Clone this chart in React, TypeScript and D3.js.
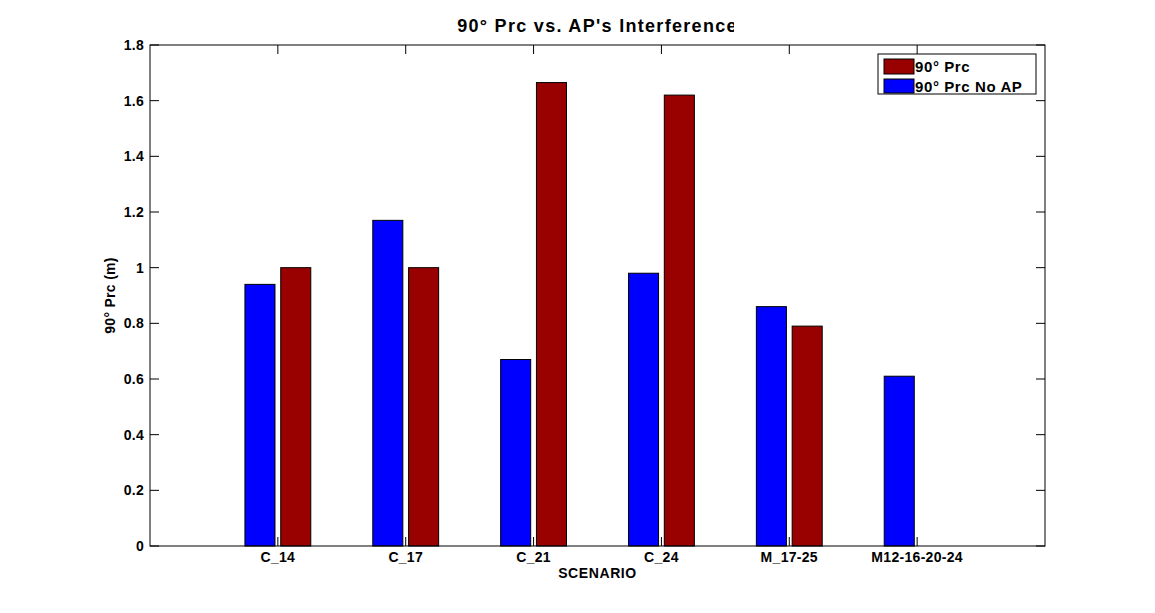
import React from "react";
import * as d3 from "d3";

const categories = ["C_14", "C_17", "C_21", "C_24", "M_17-25", "M12-16-20-24"];
const prcNoAP = [0.94, 1.17, 0.67, 0.98, 0.86, 0.61];
const prc = [1.0, 1.0, 1.665, 1.62, 0.79, 0];
const yTicks = [0, 0.2, 0.4, 0.6, 0.8, 1, 1.2, 1.4, 1.6, 1.8];
const seriesNames = ["90° Prc", "90° Prc No AP"];
const colors = { prc: "#990000", noAP: "#0000ff" };

export default function App() {
  const W = 1155, H = 613;
  const L = 150, R = 1045, T = 45, B = 546;
  const x = d3.scaleLinear().domain([0, 7]).range([L, R]);
  const y = d3.scaleLinear().domain([0, 1.8]).range([B, T]);
  const bw = 0.235;
  const off = 0.14;
  const font = "Liberation Sans, Arial, sans-serif";
  const tickLen = 9;
  const ax = { fontSize: 14, fontWeight: "bold" as const, letterSpacing: 0.3 };
  return (
    <svg width={W} height={H} style={{ position: "absolute", left: 0, top: 0, background: "#fff" }} fontFamily={font}>
      <defs>
        <clipPath id="titleClip">
          <rect x={0} y={0} width={734} height={45} />
        </clipPath>
      </defs>
      <rect x={0} y={0} width={W} height={H} fill="#fff" />
      {categories.map((c, i) => {
        const xc = i + 1;
        const bars = [];
        if (prcNoAP[i] > 0) {
          bars.push(
            <rect key="b" x={x(xc - off - bw / 2)} y={y(prcNoAP[i])} width={x(bw) - x(0)} height={y(0) - y(prcNoAP[i])} fill={colors.noAP} stroke="#000" strokeWidth={1} />
          );
        }
        if (prc[i] > 0) {
          bars.push(
            <rect key="r" x={x(xc + off - bw / 2)} y={y(prc[i])} width={x(bw) - x(0)} height={y(0) - y(prc[i])} fill={colors.prc} stroke="#000" strokeWidth={1} />
          );
        }
        return <g key={c}>{bars}</g>;
      })}
      <rect x={L} y={T} width={R - L} height={B - T} fill="none" stroke="#000" strokeWidth={1} />
      {yTicks.map((t) => (
        <g key={t}>
          <line x1={L} x2={L + tickLen} y1={y(t)} y2={y(t)} stroke="#000" />
          <line x1={R} x2={R - tickLen} y1={y(t)} y2={y(t)} stroke="#000" />
          <text x={L - 6} y={y(t)} dy="0.35em" textAnchor="end" {...ax}>{String(t)}</text>
        </g>
      ))}
      {categories.map((c, i) => (
        <g key={c}>
          <line x1={x(i + 1)} x2={x(i + 1)} y1={B} y2={B - tickLen} stroke="#000" />
          <line x1={x(i + 1)} x2={x(i + 1)} y1={T} y2={T + tickLen} stroke="#000" />
          <text x={x(i + 1)} y={B + 16} textAnchor="middle" {...ax}>{c}</text>
        </g>
      ))}
      <text x={(L + R) / 2} y={578} textAnchor="middle" {...ax} letterSpacing={0.6}>SCENARIO</text>
      <text transform={`translate(115, ${(T + B) / 2}) rotate(-90)`} textAnchor="middle" {...ax}>90° Prc (m)</text>
      <g clipPath="url(#titleClip)">
        <text x={(L + R) / 2} y={32} textAnchor="middle" fontSize={18} fontWeight="bold" letterSpacing={1.3}>90° Prc vs. AP's Interference</text>
      </g>
      <g>
        <rect x={878} y={54} width={158} height={40} fill="#fff" stroke="#000" />
        <rect x={884} y={59} width={30} height={15} fill={colors.prc} stroke="#000" />
        <rect x={884} y={79} width={30} height={14} fill={colors.noAP} stroke="#000" />
        <text x={915} y={67} dy="0.35em" fontSize={15} fontWeight="bold" letterSpacing={0.6}>{seriesNames[0]}</text>
        <text x={915} y={86.5} dy="0.35em" fontSize={15} fontWeight="bold" letterSpacing={0.6}>{seriesNames[1]}</text>
      </g>
    </svg>
  );
}
